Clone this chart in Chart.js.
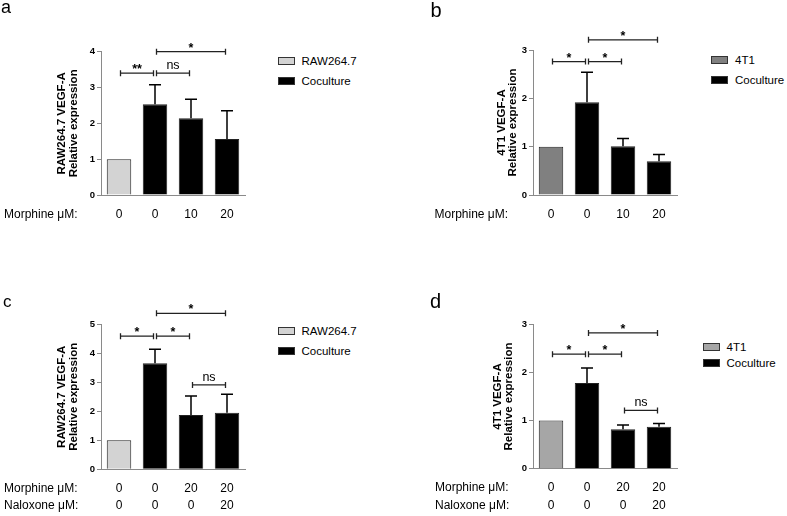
<!DOCTYPE html>
<html>
<head>
<meta charset="utf-8">
<script src="https://cdn.jsdelivr.net/npm/chart.js@4.4.1/dist/chart.umd.min.js"></script>
<style>
  body { margin: 0; background: #fff; width: 787px; height: 516px; position: relative; overflow: hidden;
         font-family: "Liberation Sans", Arial, sans-serif; color: #000; }
  canvas { position: absolute; }
  .letter { position: absolute; }
  .lg-box { position: absolute; width: 15px; height: 6px; border: 1px solid #333; }
  .lg-text { position: absolute; font-size: 11.5px; line-height: 14px; height: 14px; white-space: nowrap; }
</style>
</head>
<body>
<script>
const FONT = '"Liberation Sans", Arial, sans-serif';

// panel a - RAW264.7, morphine
const aGroups = ["RAW264.7", "Coculture"];
const aGroupOf = [0, 1, 1, 1];
const aMorphine = ["0", "0", "10", "20"];
const aValues = [1.0, 2.53, 2.14, 1.56];
const aErrors = [0, 0.55, 0.53, 0.79];
const aYMax = 4;
const aYTitle = ["RAW264.7 VEGF-A", "Relative expression"];
const aBrackets = [[0, 1, 3.4, "**"], [1, 2, 3.4, "ns"], [1, 3, 4.0, "*"]];

// panel b - 4T1, morphine
const bGroups = ["4T1", "Coculture"];
const bGroupOf = [0, 1, 1, 1];
const bMorphine = ["0", "0", "10", "20"];
const bValues = [1.0, 1.92, 1.01, 0.70];
const bErrors = [0, 0.62, 0.16, 0.14];
const bYMax = 3;
const bYTitle = ["4T1 VEGF-A", "Relative expression"];
const bBrackets = [[0, 1, 2.76, "*"], [1, 2, 2.76, "*"], [1, 3, 3.21, "*"]];

// panel c - RAW264.7, morphine + naloxone
const cGroups = ["RAW264.7", "Coculture"];
const cGroupOf = [0, 1, 1, 1];
const cMorphine = ["0", "0", "20", "20"];
const cNaloxone = ["0", "0", "0", "20"];
const cValues = [1.0, 3.66, 1.87, 1.95];
const cErrors = [0, 0.48, 0.66, 0.64];
const cYMax = 5;
const cYTitle = ["RAW264.7 VEGF-A", "Relative expression"];
const cBrackets = [[0, 1, 4.59, "*"], [1, 2, 4.59, "*"], [1, 3, 5.38, "*"], [2, 3, 2.91, "ns"]];

// panel d - 4T1, morphine + naloxone
const dGroups = ["4T1", "Coculture"];
const dGroupOf = [0, 1, 1, 1];
const dMorphine = ["0", "0", "20", "20"];
const dNaloxone = ["0", "0", "0", "20"];
const dValues = [1.0, 1.78, 0.82, 0.87];
const dErrors = [0, 0.31, 0.09, 0.07];
const dYMax = 3;
const dYTitle = ["4T1 VEGF-A", "Relative expression"];
const dBrackets = [[0, 1, 2.38, "*"], [1, 2, 2.38, "*"], [1, 3, 2.82, "*"], [2, 3, 1.21, "ns"]];

const panels = [
  { letter: "a", groups: aGroups, groupOf: aGroupOf, rows: [aMorphine], rowTitles: ["Morphine \u03bcM:"],
    values: aValues, errors: aErrors, yMax: aYMax, yTitle: aYTitle, brackets: aBrackets,
    colors: ["#d3d3d3", "#000"],
    left: 0, top: 0, height: 240, areaTop: 51.7, areaBottom: 195, titlePad: 56, rowX: 4,
    letterPos: [1, -1.9, 18], legend: [278, 301.5, 60.7, 20] },
  { letter: "b", groups: bGroups, groupOf: bGroupOf, rows: [bMorphine], rowTitles: ["Morphine \u03bcM:"],
    values: bValues, errors: bErrors, yMax: bYMax, yTitle: bYTitle, brackets: bBrackets,
    colors: ["#808080", "#000"],
    left: 432, top: 0, height: 240, areaTop: 50, areaBottom: 195, titlePad: 63.5, rowX: 2.5,
    letterPos: [430.5, -0.2, 20], legend: [710.5, 735, 60.3, 19.3] },
  { letter: "c", groups: cGroups, groupOf: cGroupOf, rows: [cMorphine, cNaloxone],
    rowTitles: ["Morphine \u03bcM:", "Naloxone \u03bcM:"],
    values: cValues, errors: cErrors, yMax: cYMax, yTitle: cYTitle, brackets: cBrackets,
    colors: ["#d3d3d3", "#000"],
    left: 0, top: 266, height: 250, areaTop: 324.3, areaBottom: 469.3, titlePad: 55.7, rowX: 4,
    letterPos: [3, 292.9, 17], legend: [278, 301.5, 330.7, 20] },
  { letter: "d", groups: dGroups, groupOf: dGroupOf, rows: [dMorphine, dNaloxone],
    rowTitles: ["Morphine \u03bcM:", "Naloxone \u03bcM:"],
    values: dValues, errors: dErrors, yMax: dYMax, yTitle: dYTitle, brackets: dBrackets,
    colors: ["#a6a6a6", "#000"],
    left: 432, top: 266, height: 250, areaTop: 324.3, areaBottom: 468.7, titlePad: 59.5, rowX: 3,
    letterPos: [430, 291.4, 20], legend: [702.5, 726.5, 347.3, 16] },
];

const X_PAD = 10.5;
const X_LINE = 17.4;

// error bars, significance brackets and row titles
function extrasPlugin(p) {
  return {
    id: "extras",
    afterDatasetsDraw(chart) {
      const ctx = chart.ctx;
      const xs = chart.scales.x, ys = chart.scales.y;
      ctx.save();
      ctx.strokeStyle = "#000";
      ctx.lineWidth = 1.5;
      chart.data.datasets.forEach((ds, di) => {
        chart.getDatasetMeta(di).data.forEach((el, i) => {
          if (ds.data[i] == null || !p.errors[i]) return;
          const top = ys.getPixelForValue(p.values[i] + p.errors[i]);
          ctx.beginPath();
          ctx.moveTo(el.x, el.y);
          ctx.lineTo(el.x, top);
          ctx.moveTo(el.x - 6, top);
          ctx.lineTo(el.x + 6, top);
          ctx.stroke();
        });
      });

      ctx.strokeStyle = "#222";
      ctx.fillStyle = "#000";
      ctx.lineWidth = 1.3;
      ctx.textAlign = "center";
      ctx.textBaseline = "alphabetic";
      p.brackets.forEach(([i, j, v, label]) => {
        const x1 = xs.getPixelForValue(i) + 1.5;
        const x2 = xs.getPixelForValue(j) - 1.5;
        const y = ys.getPixelForValue(v);
        ctx.beginPath();
        ctx.moveTo(x1, y); ctx.lineTo(x2, y);
        ctx.moveTo(x1, y - 3); ctx.lineTo(x1, y + 3);
        ctx.moveTo(x2, y - 3); ctx.lineTo(x2, y + 3);
        ctx.stroke();
        if (label === "ns") {
          ctx.font = "12.5px " + FONT;
          ctx.fillText(label, (x1 + x2) / 2, y - 4.3);
        } else {
          ctx.font = "bold 12.5px " + FONT;
          ctx.fillText(label, (x1 + x2) / 2, y + 0.2);
        }
      });

      ctx.font = "12px " + FONT;
      ctx.textAlign = "left";
      ctx.textBaseline = "middle";
      p.rowTitles.forEach((t, k) => {
        ctx.fillText(t, p.rowX, chart.chartArea.bottom + X_PAD + X_LINE * (k + 0.5));
      });
      ctx.restore();
    },
  };
}

function makePanel(p) {
  const canvas = document.createElement("canvas");
  canvas.width = 260;
  canvas.height = p.height;
  canvas.style.left = p.left + "px";
  canvas.style.top = p.top + "px";
  document.body.appendChild(canvas);

  const labels = p.values.map((_, i) => p.rows.length > 1 ? p.rows.map(r => r[i]) : p.rows[0][i]);
  const datasets = p.groups.map((g, gi) => ({
    label: g,
    data: p.values.map((v, i) => (p.groupOf[i] === gi ? v : null)),
    backgroundColor: p.colors[gi],
    borderColor: "#222",
    borderWidth: 1,
    barPercentage: 0.68,
    categoryPercentage: 1,
    grouped: false,
  }));

  const xHeight = p.height - (p.areaBottom - p.top);

  const chart = new Chart(canvas, {
    type: "bar",
    data: { labels, datasets },
    options: {
      responsive: false,
      animation: false,
      layout: { padding: { left: 0, right: 15, top: p.areaTop - p.top, bottom: 0 } },
      plugins: { legend: { display: false }, tooltip: { enabled: false } },
      scales: {
        x: {
          grid: { display: false, drawTicks: false },
          border: { display: true, color: "#8a8a8a", width: 1 },
          ticks: {
            color: "#000", padding: X_PAD, maxRotation: 0, autoSkip: false,
            font: { family: FONT, size: 12, lineHeight: X_LINE / 12 },
          },
          afterFit(scale) { scale.height = xHeight; },
        },
        y: {
          min: 0,
          max: p.yMax,
          grid: { display: true, drawOnChartArea: false, drawTicks: true, tickLength: 4, color: "#8a8a8a" },
          border: { display: true, color: "#8a8a8a", width: 1 },
          ticks: {
            stepSize: 1, padding: 2, color: "#000",
            font: { family: '"Liberation Sans Narrow", ' + FONT, size: 9.5, weight: "bold" },
          },
          title: {
            display: true,
            text: p.yTitle,
            color: "#000",
            padding: { top: p.titlePad, bottom: 0 },
            font: { family: FONT, size: 11.5, weight: "bold", lineHeight: 1.03 },
          },
          afterFit(scale) { scale.width = 101; },
        },
      },
    },
    plugins: [extrasPlugin(p)],
  });

  // panel letter
  const [lx, ly, ls] = p.letterPos;
  const letter = document.createElement("div");
  letter.className = "letter";
  letter.textContent = p.letter;
  letter.style.cssText += `left:${lx}px;top:${ly}px;font-size:${ls}px;line-height:${ls}px;`;
  document.body.appendChild(letter);

  // legend built from the chart's datasets
  const [boxX, textX, y0, gap] = p.legend;
  chart.data.datasets.forEach((ds, k) => {
    const y = y0 + k * gap;
    const box = document.createElement("div");
    box.className = "lg-box";
    box.style.left = boxX + "px";
    box.style.top = (y - 4) + "px";
    box.style.background = ds.backgroundColor;
    document.body.appendChild(box);
    const txt = document.createElement("div");
    txt.className = "lg-text";
    txt.textContent = ds.label;
    txt.style.left = textX + "px";
    txt.style.top = (y - 7) + "px";
    document.body.appendChild(txt);
  });
}

panels.forEach(makePanel);
</script>
</body>
</html>
